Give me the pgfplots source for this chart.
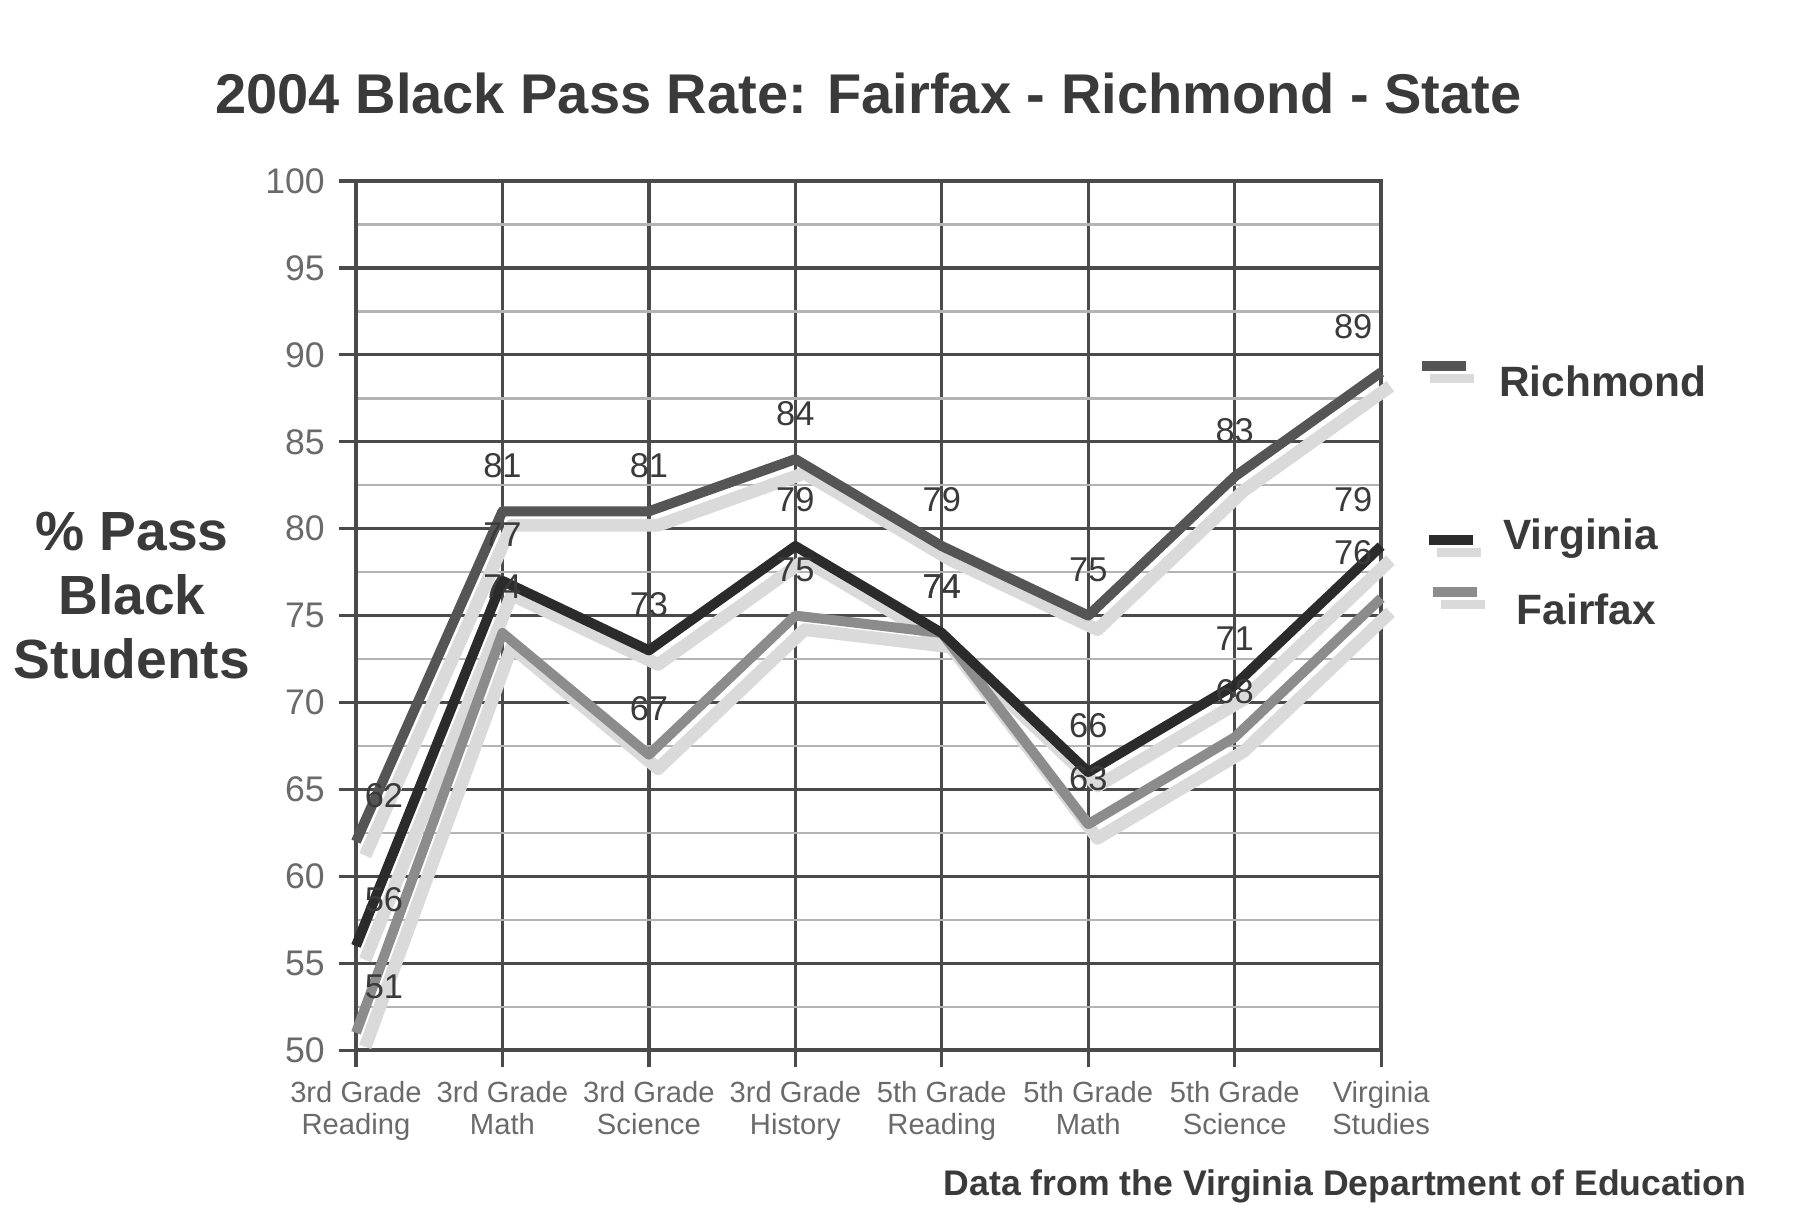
\documentclass[border=0pt]{standalone}
\usepackage{pgfplots}
\pgfplotsset{compat=1.18}
\usepackage{pgfplotstable}
\usepackage{fontspec}
\setmainfont{Liberation Sans}
\definecolor{rich}{HTML}{555555}
\definecolor{virg}{HTML}{2B2B2B}
\definecolor{fair}{HTML}{8C8C8C}
\definecolor{shad}{HTML}{DADADA}
\definecolor{majgrid}{HTML}{4A4A4A}
\definecolor{mingrid}{HTML}{B4B4B4}
\definecolor{ticktext}{HTML}{6A6A6A}
\definecolor{labtext}{HTML}{3A3A3A}

\pgfplotstableread{
x rich virg fair
0 62 56 51
1 81 77 74
2 81 73 67
3 84 79 75
4 79 74 74
5 75 66 63
6 83 71 68
7 89 79 76
}\datatable

\begin{document}
\begin{tikzpicture}
\path[use as bounding box] (0,0) rectangle (450pt,306.25pt);
\begin{axis}[
  at={(89pt,43.7pt)}, anchor=south west,
  scale only axis, width=256.3pt, height=217.3pt,
  xmin=0, xmax=7, ymin=50, ymax=100,
  xtick={0,...,7},
  xticklabels={3rd Grade\\Reading,3rd Grade\\Math,3rd Grade\\Science,3rd Grade\\History,5th Grade\\Reading,5th Grade\\Math,5th Grade\\Science,Virginia\\Studies},
  ytick={50,55,...,100},
  minor ytick={52.5,57.5,...,97.5},
  grid=both,
  major grid style={majgrid, line width=0.8pt},
  minor grid style={mingrid, line width=0.6pt},
  axis line style={majgrid, line width=1pt},
  tick align=outside, major tick length=4.3pt, minor tick length=0pt,
  tick style={majgrid, line width=0.8pt},
  xtick pos=bottom, ytick pos=left,
  x tick label style={align=center, font=\fontsize{7.3}{8}\selectfont, text=ticktext},
  y tick label style={font=\fontsize{8.9}{10}\selectfont, text=ticktext},
  /pgf/number format/assume math mode=true,
  title={2004 Black Pass Rate: Fairfax - Richmond - State},
  title style={at={(0.5,1)}, anchor=center, yshift=16pt, font=\bfseries\fontsize{14}{17}\selectfont, text=labtext},
  ylabel={\% Pass\\Black\\Students},
  every axis y label/.style={at={(rel axis cs:0,0.5)}, anchor=center, xshift=-56pt, yshift=4.9pt, align=center, font=\bfseries\fontsize{13.8}{16}\selectfont, text=labtext},
  clip=false,
  every node near coord/.style={font=\fontsize{8.6}{10}\selectfont, text=labtext, anchor=center, yshift=11.5pt},
  coordinate style/.condition={x<0.5}{xshift=7pt},
  coordinate style/.condition={x>6.5}{xshift=-7pt},
]
% shadows
\addplot[shad, line width=3.2pt, line join=round, xshift=2.3pt, yshift=-3.5pt, forget plot] table[x=x, y=rich] {\datatable};
\addplot[shad, line width=3.2pt, line join=round, xshift=2.3pt, yshift=-3.5pt, forget plot] table[x=x, y=virg] {\datatable};
\addplot[shad, line width=3.2pt, line join=round, xshift=2.3pt, yshift=-3.5pt, forget plot] table[x=x, y=fair] {\datatable};
% value labels
\addplot[draw=none, forget plot, nodes near coords] table[x=x, y=rich] {\datatable};
\addplot[draw=none, forget plot, nodes near coords] table[x=x, y=virg] {\datatable};
\addplot[draw=none, forget plot, nodes near coords] table[x=x, y=fair] {\datatable};
% lines
\addplot[fair, line width=2.5pt, line join=round] table[x=x, y=fair] {\datatable}
  node[pos=1, anchor=west, inner sep=0pt, xshift=11.7pt] {\rlap{\hspace{2pt}\raisebox{-3pt}{\textcolor{shad}{\rule{11pt}{2.4pt}}}}\textcolor{fair}{\rule{11pt}{2.6pt}}}
  node[pos=1, anchor=west, inner sep=0pt, xshift=32.7pt, yshift=-2.75pt, text depth=0pt, font=\bfseries\fontsize{10.6}{12}\selectfont, text=labtext] {Fairfax};
\addplot[virg, line width=2.5pt, line join=round] table[x=x, y=virg] {\datatable}
  node[pos=1, anchor=west, inner sep=0pt, xshift=10.7pt] {\rlap{\hspace{2pt}\raisebox{-3pt}{\textcolor{shad}{\rule{11pt}{2.4pt}}}}\textcolor{virg}{\rule{11pt}{2.6pt}}}
  node[pos=1, anchor=west, inner sep=0pt, xshift=29.3pt, yshift=3pt, text depth=0pt, font=\bfseries\fontsize{10.6}{12}\selectfont, text=labtext] {Virginia};
\addplot[rich, line width=2.5pt, line join=round] table[x=x, y=rich] {\datatable}
  node[pos=1, anchor=west, inner sep=0pt, xshift=8.9pt] {\rlap{\hspace{2pt}\raisebox{-3pt}{\textcolor{shad}{\rule{11pt}{2.4pt}}}}\textcolor{rich}{\rule{11pt}{2.6pt}}}
  node[pos=1, anchor=west, inner sep=0pt, xshift=28.3pt, yshift=-2.25pt, text depth=0pt, font=\bfseries\fontsize{10.6}{12}\selectfont, text=labtext] {Richmond};
\end{axis}
\node[anchor=east, inner sep=0pt, font=\bfseries\fontsize{8.9}{10}\selectfont, text=labtext] at (436.8pt,9.75pt) {Data from the Virginia Department of Education};
\end{tikzpicture}
\end{document}
